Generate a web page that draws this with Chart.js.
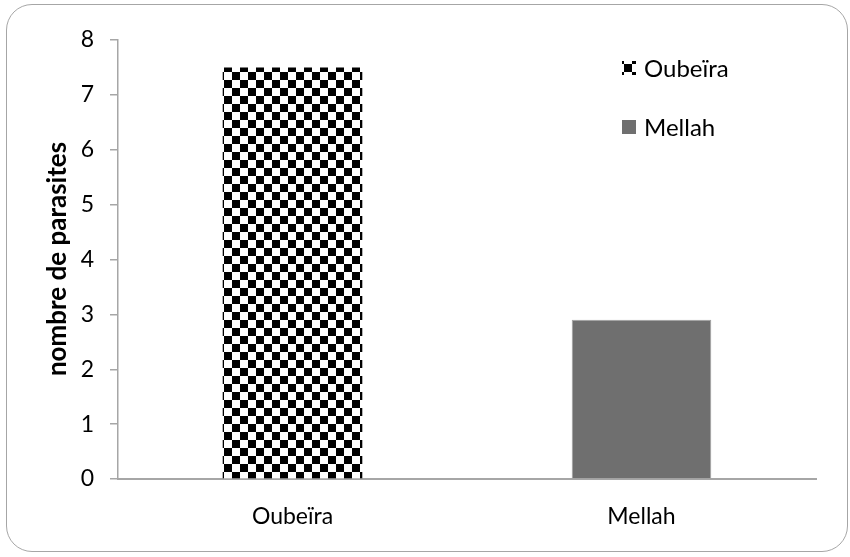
<!DOCTYPE html>
<html>
<head>
<meta charset="utf-8">
<script src="https://cdn.jsdelivr.net/npm/chart.js@4.4.1/dist/chart.umd.min.js"></script>
<style>
html,body{margin:0;padding:0;background:#fff;}
#wrap{position:relative;width:850px;height:557px;}
#frame{position:absolute;left:6px;top:4px;width:840px;height:546px;border:1.5px solid #a6a6a6;border-radius:26px;pointer-events:none;}
canvas{position:absolute;left:0;top:0;}
</style>
</head>
<body>
<div id="wrap">
<canvas id="c" width="850" height="557"></canvas>
<div id="frame"></div>
</div>
<script>
const categories = ["Oubeïra", "Mellah"];
const seriesLabels = ["Oubeïra", "Mellah"];
const oubeiraValues = [7.5, null];
const mellahValues = [null, 2.9];
const yTicks = [0, 1, 2, 3, 4, 5, 6, 7, 8];
const yTitle = "nombre de parasites";

const FONT = "Lato, 'Open Sans', sans-serif";

function makeChecker() {
  const t = document.createElement('canvas');
  t.width = 16; t.height = 16;
  const g = t.getContext('2d');
  g.fillStyle = '#fff'; g.fillRect(0,0,16,16);
  g.fillStyle = '#000';
  g.fillRect(0,0,8,8); g.fillRect(8,8,8,8);
  return document.getElementById('c').getContext('2d').createPattern(t, 'repeat');
}
const checker = makeChecker();

const legendPlugin = {
  id: 'customLegend',
  afterDraw(chart) {
    const ctx = chart.ctx;
    ctx.save();
    const items = chart.data.datasets;
    const x0 = 622, ys = [68, 127];
    items.forEach((ds, i) => {
      const y = ys[i];
      ctx.fillStyle = ds.backgroundColor;
      ctx.fillRect(x0, y - 7, 14, 14);
      ctx.fillStyle = '#000';
      ctx.font = "24px " + FONT;
      ctx.textBaseline = 'middle';
      ctx.textAlign = 'left';
      ctx.fillText(ds.label, x0 + 22, y + 1);
    });
    // y-axis title
    ctx.translate(58, 259);
    ctx.rotate(-Math.PI / 2);
    ctx.font = "bold 26px " + FONT;
    ctx.textAlign = 'center';
    ctx.textBaseline = 'middle';
    ctx.fillStyle = '#000';
    ctx.fillText(yTitle, 0, 0);
    ctx.restore();
  }
};

new Chart(document.getElementById('c'), {
  type: 'bar',
  data: {
    labels: categories,
    datasets: [
      { label: seriesLabels[0], data: oubeiraValues, backgroundColor: checker, borderWidth: 0, barPercentage: 0.4, categoryPercentage: 1.0, grouped: false },
      { label: seriesLabels[1], data: mellahValues, backgroundColor: '#6f6f6f', borderColor: '#a0a0a0', borderWidth: 1, barPercentage: 0.4, categoryPercentage: 1.0, grouped: false }
    ]
  },
  options: {
    responsive: false,
    animation: false,
    devicePixelRatio: 1,
    layout: { padding: { left: 0, top: 40, right: 34, bottom: 0 } },
    plugins: { legend: { display: false }, tooltip: { enabled: false } },
    scales: {
      x: {
        grid: { display: false },
        border: { display: true, color: '#a6a6a6', width: 2 },
        ticks: { color: '#000', font: { family: FONT, size: 23 }, padding: 16 },
        afterFit(s) { s.height = 557 - 479; }
      },
      y: {
        min: 0, max: 8,
        afterBuildTicks(s) { s.ticks = yTicks.map(v => ({ value: v })); },
        grid: { display: true, drawOnChartArea: false, drawTicks: true, tickLength: 8, color: '#a6a6a6', lineWidth: 1.5 },
        border: { display: true, color: '#a6a6a6', width: 1.5 },
        ticks: { color: '#000', font: { family: FONT, size: 23 }, padding: 16 },
        title: { display: false },
        afterFit(s) { s.width = 118; }
      }
    }
  },
  plugins: [legendPlugin]
});
</script>
</body>
</html>
